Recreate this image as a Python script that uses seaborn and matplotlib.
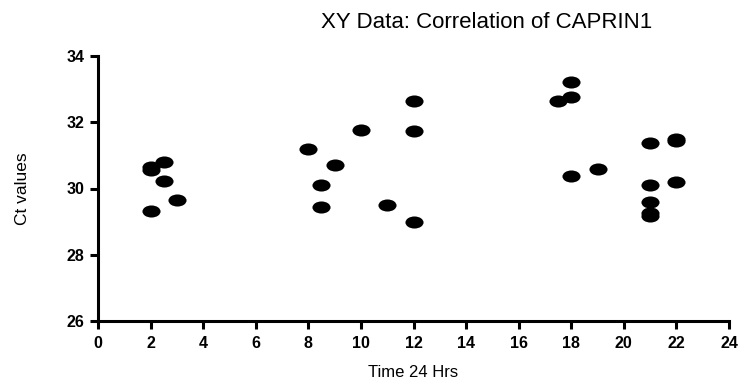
import numpy as np
import pandas as pd
import matplotlib
matplotlib.use("Agg")
import matplotlib.pyplot as plt
import seaborn as sns
from matplotlib.path import Path
from matplotlib.transforms import Affine2D

# Data
time_hrs = [2, 2, 2.5, 2.5, 3, 2,
            8, 8.5, 8.5, 9, 10, 11, 12, 12, 12,
            17.5, 18, 18, 18, 19,
            21, 21, 21, 21, 21, 22, 22, 22]
ct_values = [30.65, 30.55, 30.8, 30.22, 29.65, 29.33,
             31.2, 30.1, 29.45, 30.7, 31.78, 29.5, 32.65, 31.73, 28.98,
             32.65, 33.22, 32.75, 30.37, 30.6,
             31.37, 30.1, 29.6, 29.27, 29.17, 31.5, 31.42, 30.2]
x_ticks = list(range(0, 25, 2))
y_ticks = [26, 28, 30, 32, 34]
title_text = "XY Data: Correlation of CAPRIN1"
x_label = "Time 24 Hrs"
y_label = "Ct values"

df = pd.DataFrame({"time": time_hrs, "ct": ct_values})

sns.set_theme(style="white")
plt.rcParams["font.family"] = ["Liberation Sans", "DejaVu Sans"]

fig = plt.figure(figsize=(7.44, 3.85), dpi=100)
ax = fig.add_axes([98 / 744, 64 / 385, 631 / 744, 265 / 385])

ellipse = Path.unit_circle().transformed(Affine2D().scale(1.5, 1.0))

sns.scatterplot(data=df, x="time", y="ct", ax=ax, marker=ellipse,
                s=170, color="black", edgecolor="black", linewidth=0,
                clip_on=False, legend=False)

ax.set_xlim(0, 24)
ax.set_ylim(26, 34)
ax.set_xticks(x_ticks)
ax.set_yticks(y_ticks)
ax.set_xticklabels([str(t) for t in x_ticks], fontweight="bold", fontsize=11.5)
ax.set_yticklabels([str(t) for t in y_ticks], fontweight="bold", fontsize=11.5)

for side in ["top", "right"]:
    ax.spines[side].set_visible(False)
for side in ["left", "bottom"]:
    ax.spines[side].set_linewidth(2.2)
    ax.spines[side].set_color("black")
ax.tick_params(axis="both", direction="out", length=6, width=2.2,
               color="black", labelcolor="black", pad=4,
               bottom=True, left=True, top=False, right=False)
ax.tick_params(axis="x", pad=5)
ax.grid(False)

ax.set_xlabel(x_label, fontsize=12, labelpad=10, color="black")
ax.set_ylabel(y_label, fontsize=12.5, labelpad=26, color="black",
              family=["Liberation Sans Narrow", "Liberation Sans", "DejaVu Sans"])

fig.text(487 / 744, 1 - 22 / 385, title_text, ha="center", va="center",
         fontsize=16, color="black")

fig.savefig("out.png", dpi=100, facecolor="white")
